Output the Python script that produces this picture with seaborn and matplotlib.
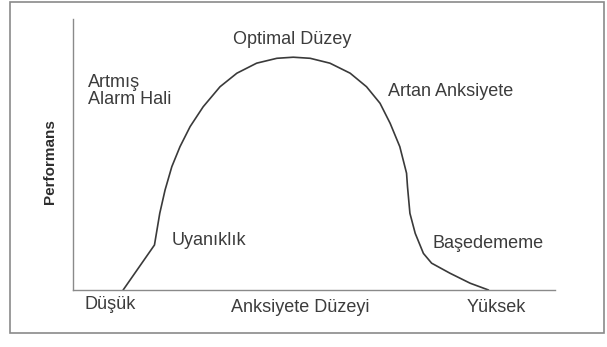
import matplotlib
matplotlib.use("Agg")
import matplotlib.pyplot as plt
import seaborn as sns
import pandas as pd
from matplotlib.patches import Rectangle

# Inverted-U relation between anxiety level and performance
anxiety = [10.4, 16.9, 18.0, 19.1, 20.5, 22.2, 24.3, 27.0, 30.5, 34.0, 38.1,
           42.3, 45.7, 49.2, 53.3, 57.5, 60.9, 63.7, 65.8, 67.8, 69.2, 69.4,
           69.9, 71.0, 72.7, 74.4, 78.2, 82.4, 86.2]
performance = [0.0, 16.6, 28.3, 36.9, 45.5, 52.9, 60.3, 67.6, 75.0, 80.0, 83.7,
               85.5, 85.9, 85.5, 83.7, 80.0, 75.0, 68.9, 61.5, 52.9, 43.1, 38.1,
               28.3, 20.9, 13.5, 9.9, 6.2, 2.5, 0.0]

region_labels = ["Optimal Düzey", "Artmış\nAlarm Hali", "Artan Anksiyete",
                 "Uyanıklık", "Başedememe"]
x_tick_labels = ["Düşük", "Anksiyete Düzeyi", "Yüksek"]
y_label = "Performans"

sns.set_theme(style="white")
plt.rcParams["font.family"] = ["Liberation Sans", "DejaVu Sans"]

fig = plt.figure(figsize=(6.07, 3.47), dpi=100)
fig.patch.set_facecolor("white")
ax = fig.add_axes([73 / 607, 1 - 290 / 347, 482 / 607, 271 / 347])

df = pd.DataFrame({"anxiety": anxiety, "performance": performance})
sns.lineplot(data=df, x="anxiety", y="performance", sort=False,
             color="#3a3a3a", linewidth=1.2, ax=ax)

ax.set_xlim(0, 100)
ax.set_ylim(0, 100)
ax.set_xticks([])
ax.set_yticks([])
ax.set_xlabel("")
ax.set_ylabel("")
for side in ["top", "right"]:
    ax.spines[side].set_visible(False)
for side in ["left", "bottom"]:
    ax.spines[side].set_color("#8a8a8a")
    ax.spines[side].set_linewidth(1.0)

txt = dict(fontsize=13, color="#3c3c3c", clip_on=False)
ax.text(45.4, 92.3, region_labels[0], ha="center", va="center", **txt)
ax.text(3.1, 73.4, region_labels[1], ha="left", va="center", linespacing=1.0, **txt)
ax.text(65.4, 73.1, region_labels[2], ha="left", va="center", **txt)
ax.text(20.5, 18.1, region_labels[3], ha="left", va="center", **txt)
ax.text(74.5, 17.3, region_labels[4], ha="left", va="center", **txt)

ax.text(2.3, -5.5, x_tick_labels[0], ha="left", va="center", **txt)
ax.text(47.1, -6.3, x_tick_labels[1], ha="center", va="center", **txt)
ax.text(81.7, -6.6, x_tick_labels[2], ha="left", va="center", **txt)

fig.text(50 / 607, 1 - 162 / 347, y_label, rotation=90, ha="center", va="center",
         fontsize=11, fontweight="bold", color="#2e2e2e",
         family=["Liberation Sans Narrow", "Liberation Sans", "DejaVu Sans"])

# Border around the whole figure
fig.patches.append(Rectangle((10 / 607, 1 - 333 / 347), 594 / 607, 331 / 347,
                             transform=fig.transFigure, fill=False,
                             edgecolor="#8a8a8a", linewidth=1.2))

fig.savefig("out.png", dpi=100, facecolor="white")
